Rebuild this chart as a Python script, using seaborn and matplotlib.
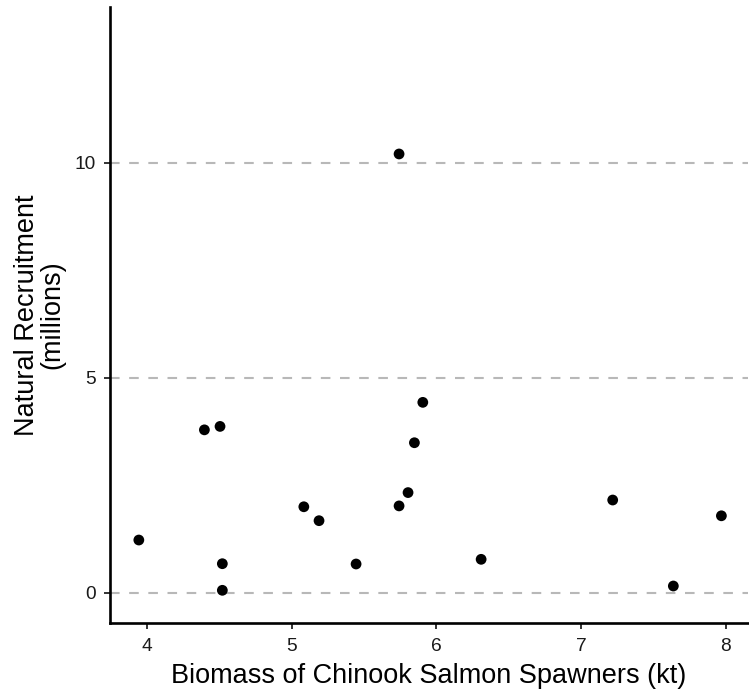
import matplotlib
matplotlib.use("Agg")
import matplotlib.pyplot as plt
import seaborn as sns
import pandas as pd

biomass_kt = [3.945, 4.398, 4.506, 4.522, 4.522, 5.085, 5.19, 5.446, 5.743, 5.743,
              5.805, 5.849, 5.907, 6.31, 7.219, 7.638, 7.97]
recruitment_millions = [1.226, 3.79, 3.87, 0.675, 0.056, 2.0, 1.676, 0.668, 10.21, 2.02,
                        2.33, 3.49, 4.43, 0.777, 2.157, 0.156, 1.79]
x_ticks = [4, 5, 6, 7, 8]
y_ticks = [0, 5, 10]

df = pd.DataFrame({"biomass": biomass_kt, "recruitment": recruitment_millions})

sns.set_style("white")
plt.rcParams['font.family'] = ['Liberation Sans', 'DejaVu Sans']

fig = plt.figure(figsize=(7.49, 6.94), dpi=100)
ax = fig.add_axes([0.1469, 0.1023, 0.8518, 0.8876])

for y in y_ticks:
    ax.axhline(y, color="#b8b8b8", lw=1.5, ls=(0, (4.6, 4.6)), zorder=0)

sns.scatterplot(data=df, x="biomass", y="recruitment", ax=ax, color="black",
                s=60, edgecolor="none", zorder=3)

ax.set_xlim(3.746, 8.154)
ax.set_ylim(-0.705, 13.63)
ax.set_xticks(x_ticks)
ax.set_yticks(y_ticks)
ax.set_xticklabels([str(v) for v in x_ticks])
ax.set_yticklabels([str(v) for v in y_ticks])

for s in ["top", "right"]:
    ax.spines[s].set_visible(False)
for s in ["left", "bottom"]:
    ax.spines[s].set_color("black")
    ax.spines[s].set_linewidth(1.9)

ax.tick_params(axis="both", which="major", direction="out", length=4.5, width=1.4,
               color="#333333", labelsize=13.8, labelcolor="#1a1a1a",
               bottom=True, left=True)
ax.tick_params(axis="x", pad=6)
ax.tick_params(axis="y", pad=6)

ax.set_xlabel("Biomass of Chinook Salmon Spawners (kt)", fontsize=19.5, color="black", labelpad=6)
ax.set_ylabel("Natural Recruitment\n(millions)", fontsize=19.5, color="black", labelpad=6,
              linespacing=1.0)
ax.yaxis.label.set_horizontalalignment("center")

fig.savefig("out.png", dpi=100)
